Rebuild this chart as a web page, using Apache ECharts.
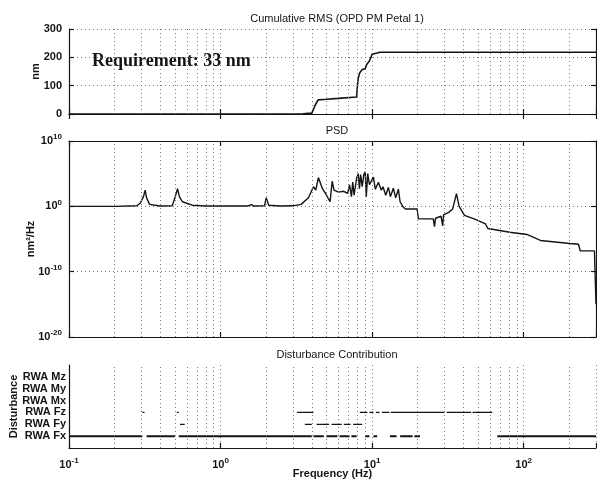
<!DOCTYPE html>
<html>
<head>
<meta charset="utf-8">
<script src="https://cdn.jsdelivr.net/npm/echarts@6/dist/echarts.min.js"></script>
<style>
  html, body { margin: 0; background: #fff; }
  #chart { width: 597px; height: 485px; }
</style>
</head>
<body>
<div id="chart"></div>
<script>
document.addEventListener('DOMContentLoaded', function() {

    // cumulative RMS (nm) vs frequency (Hz)
    const rmsFreq = [0.1, 1, 3.5, 4.0, 4.2, 4.4, 5, 6, 7.9, 8.0, 8.1, 8.3, 8.6, 9.0, 9.2, 9.6, 10.0, 10.8, 11.3, 300];
    const rmsVal  = [0, 0, 1, 3, 30, 50, 52, 55, 60, 100, 127, 146, 157, 160, 175, 187, 211, 215, 218, 218];

    // PSD (nm^2/Hz) vs frequency (Hz)
    const psdFreq = [0.1, 0.2, 0.28, 0.295, 0.31, 0.318, 0.325, 0.34, 0.4, 0.48, 0.5, 0.52, 0.535, 0.56, 0.65, 0.8,
        1.5, 1.6, 1.65, 1.95, 2.0, 2.08, 2.5, 3.0, 3.4, 3.8, 4.1, 4.25, 4.42, 4.7, 5.0, 5.28, 5.45, 5.6, 6.0, 6.5, 6.9,
        7.1, 7.3, 7.45, 7.6, 7.9, 8.1, 8.25, 8.4, 8.6, 8.8, 9.0, 9.15, 9.35, 9.6, 10.2, 10.5, 11.0, 11.5, 11.8, 12.3,
        12.8, 13.2, 13.8, 14.3, 14.9, 15.3, 16.0, 16.6, 19.8, 20.2, 25.3, 25.8, 26.2, 28.5, 29.2, 29.6, 32, 34, 36,
        37.5, 40.7, 48, 56, 58, 81, 105, 129, 202, 230, 236, 293, 300];
    const psdVal = [1, 1, 1.2, 3, 30, 300, 20, 2, 1.1, 1.2, 20, 500, 30, 5, 1.5, 1.1,
        1.1, 1.8, 1.1, 1.2, 20, 1.5, 1.1, 1.2, 2, 20, 1e3, 300, 2.5e4, 500, 50, 5, 7e3, 300, 150, 200, 100,
        2e3, 30, 5e3, 50, 2e4, 1e5, 500, 7e4, 1e3, 6e4, 2e5, 30, 1e5, 2e3, 3e4, 400, 5e3, 300, 1e3, 50,
        800, 30, 600, 20, 400, 5, 0.8, 0.4, 0.4, 0.012, 0.012, 8e-4, 0.015, 0.03, 1e-3, 0.05, 0.12, 0.4, 90,
        1, 0.04, 0.01, 2e-3, 4e-4, 1.1e-4, 5e-5, 6e-6, 2e-6, 1.6e-6, 1.6e-7, 1.5e-7, 1e-15];

    // dominant disturbance segments: [from, to] Hz
    const disturbances = ['RWA Fx', 'RWA Fy', 'RWA Fz', 'RWA Mx', 'RWA My', 'RWA Mz'];
    const fxSegments = [[0.1, 0.305], [0.325, 0.5], [0.53, 4.0], [4.1, 4.8], [5.0, 5.9], [6.1, 7.1], [7.3, 7.9],
        [9.0, 9.6], [10.2, 10.8], [13.1, 14.5], [15.3, 18.5], [19.0, 20.7], [67, 300]];
    const fySegments = [[0.54, 0.58], [3.6, 4.0], [4.3, 5.2], [5.4, 6.3], [6.5, 7.2], [7.5, 8.6]];
    const fzSegments = [[0.305, 0.315], [0.515, 0.53], [3.2, 4.1], [8.3, 9.3], [9.6, 10.2], [10.6, 11.2],
        [11.6, 13.0], [13.3, 30], [31, 45], [46, 62]];

    const minorGrid = [0.2, 0.3, 0.4, 0.5, 0.6, 0.7, 0.8, 0.9, 2, 3, 4, 5, 6, 7, 8, 9,
        20, 30, 40, 50, 60, 70, 80, 90, 200];

    const font = 'Liberation Sans';
    const ink = '#141414';

    const zip = (xs, ys) => xs.map((x, i) => [x, ys[i]]);
    const segs = (list, level) => {
        const out = [];
        list.forEach(s => { out.push([s[0], level], [s[1], level], [s[1], '-']); });
        return out;
    };
    const supLabel = v => {
        const e = Math.log10(v);
        if (Math.abs(e - Math.round(e)) > 1e-6) return '';
        return '{b|10}{sup|' + Math.round(e) + '}';
    };
    const supRich = {
        b: { fontSize: 11, fontWeight: 'bold', fontFamily: font, color: ink },
        sup: { fontSize: 8, fontWeight: 'bold', fontFamily: font, color: ink, padding: [0, 0, 8, 0] }
    };
    const gridMarks = {
        silent: true,
        symbol: 'none',
        label: { show: false },
        lineStyle: { color: '#777', type: [1, 3], width: 1 },
        data: minorGrid.map(v => ({ xAxis: v }))
    };
    const dotted = { show: true, lineStyle: { color: '#777', type: [1, 3], width: 1 } };
    const axisLine = { show: true, lineStyle: { color: ink, width: 1.2 } };
    const tick = { show: true, inside: true, length: 5, lineStyle: { color: ink, width: 1.2 } };
    const nameStyle = { fontFamily: font, fontSize: 11, fontWeight: 'bold', color: ink };

    const freqAxis = (grid, labels) => ({
        type: 'log', logBase: 10, gridIndex: grid, min: 0.1, max: 300,
        axisLine: axisLine,
        axisTick: tick,
        splitLine: dotted,
        axisLabel: labels ? { show: true, formatter: supLabel, rich: supRich, margin: 9 } : { show: false },
        name: labels ? 'Frequency (Hz)' : '',
        nameLocation: 'middle', nameGap: 20, nameMoveOverlap: false,
        nameTextStyle: nameStyle
    });
    const topAxis = grid => ({
        type: 'log', logBase: 10, gridIndex: grid, min: 0.1, max: 300, position: 'top',
        axisLine: axisLine, axisTick: tick,
        axisLabel: { show: false }, splitLine: { show: false }
    });

    const chart = echarts.init(document.getElementById('chart'), null, { renderer: 'canvas' });
    chart.setOption({
        animation: false,
        backgroundColor: '#fff',
        title: [
            { text: 'Cumulative RMS (OPD PM Petal 1)', left: 332, top: 8, textAlign: 'center',
              textStyle: { fontFamily: font, fontSize: 11, fontWeight: 'normal', color: ink } },
            { text: 'PSD', left: 332, top: 120, textAlign: 'center',
              textStyle: { fontFamily: font, fontSize: 11, fontWeight: 'normal', color: ink } },
            { text: 'Disturbance Contribution', left: 332, top: 344, textAlign: 'center',
              textStyle: { fontFamily: font, fontSize: 11, fontWeight: 'normal', color: ink } }
        ],
        graphic: [{
            type: 'text', left: 92, top: 52,
            style: { text: 'Requirement: 33 nm', font: 'bold 18px "Liberation Serif"', fill: ink }
        }],
        grid: [
            { left: 69, top: 29, width: 527, height: 85, outerBoundsMode: 'none', containLabel: false },
            { left: 69, top: 141, width: 527, height: 196, outerBoundsMode: 'none', containLabel: false },
            { left: 69, top: 365, width: 527, height: 83, outerBoundsMode: 'none', containLabel: false }
        ],
        xAxis: [freqAxis(0, false), freqAxis(1, false), freqAxis(2, true), topAxis(0), topAxis(1)],
        yAxis: [
            { type: 'value', gridIndex: 0, min: 0, max: 300, interval: 100,
              axisLine: axisLine, axisTick: tick, splitLine: dotted,
              axisLabel: { fontFamily: font, fontSize: 11, fontWeight: 'bold', color: ink, margin: 7 },
              name: 'nm', nameLocation: 'middle', nameGap: 28, nameRotate: 90, nameMoveOverlap: false,
              nameTextStyle: nameStyle },
            { type: 'log', logBase: 10, gridIndex: 1, min: 1e-20, max: 1e10, splitNumber: 3,
              axisLine: axisLine, axisTick: tick, splitLine: dotted,
              axisLabel: { formatter: supLabel, rich: supRich, margin: 7 },
              name: 'nm²/Hz', nameLocation: 'middle', nameGap: 33, nameRotate: 90, nameMoveOverlap: false,
              nameTextStyle: nameStyle },
            { type: 'value', gridIndex: 2, min: 0, max: 7, interval: 1,
              axisLine: axisLine, axisTick: { show: false }, splitLine: { show: false },
              axisLabel: { fontFamily: font, fontSize: 11, fontWeight: 'bold', color: ink, margin: 3,
                           formatter: v => disturbances[v - 1] || '' },
              name: 'Disturbance', nameLocation: 'middle', nameGap: 50, nameRotate: 90, nameMoveOverlap: false,
              nameTextStyle: nameStyle },
            { type: 'value', gridIndex: 0, min: 0, max: 300, interval: 100, position: 'right',
              axisLine: axisLine, axisTick: tick,
              axisLabel: { show: false }, splitLine: { show: false } },
            { type: 'log', logBase: 10, gridIndex: 1, min: 1e-20, max: 1e10, splitNumber: 3, position: 'right',
              axisLine: axisLine, axisTick: tick,
              axisLabel: { show: false }, splitLine: { show: false } }
        ],
        series: [
            { type: 'line', xAxisIndex: 0, yAxisIndex: 0, data: zip(rmsFreq, rmsVal), showSymbol: false,
              lineStyle: { color: ink, width: 1.6 }, markLine: gridMarks },
            { type: 'line', xAxisIndex: 1, yAxisIndex: 1, data: zip(psdFreq, psdVal), showSymbol: false,
              lineStyle: { color: ink, width: 1.4 }, markLine: gridMarks },
            { type: 'line', xAxisIndex: 2, yAxisIndex: 2, data: segs(fxSegments, 1), showSymbol: false,
              connectNulls: false, lineStyle: { color: ink, width: 2 }, markLine: gridMarks },
            { type: 'line', xAxisIndex: 2, yAxisIndex: 2, data: segs(fySegments, 2), showSymbol: false,
              connectNulls: false, lineStyle: { color: ink, width: 1.3 } },
            { type: 'line', xAxisIndex: 2, yAxisIndex: 2, data: segs(fzSegments, 3), showSymbol: false,
              connectNulls: false, lineStyle: { color: ink, width: 1.3 } }
        ]
    });

});
</script>
</body>
</html>
